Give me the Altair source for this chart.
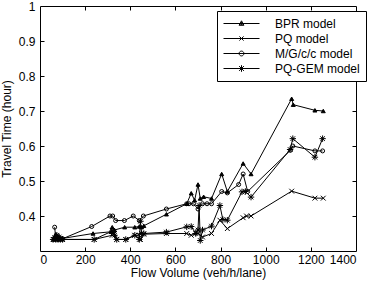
import altair as alt
import pandas as pd

# ---- data ----
series_names = ["BPR model", "PQ model", "M/G/c/c model", "PQ-GEM model"]

bpr_x = [60, 65, 70, 75, 80, 85, 95, 100, 235, 315, 320, 330, 375, 420, 440, 450, 460, 560, 650, 670, 685, 700, 710, 725, 760, 805, 830, 900, 935, 1115, 1122, 1218, 1255]
bpr_y = [0.333, 0.34, 0.348, 0.336, 0.342, 0.335, 0.333, 0.336, 0.35, 0.355, 0.368, 0.36, 0.368, 0.368, 0.37, 0.368, 0.372, 0.405, 0.435, 0.465, 0.445, 0.49, 0.45, 0.455, 0.45, 0.52, 0.47, 0.55, 0.52, 0.735, 0.718, 0.702, 0.70]

pq_x = [60, 70, 75, 80, 90, 100, 240, 320, 330, 340, 380, 420, 440, 445, 460, 560, 650, 670, 700, 720, 760, 797, 830, 900, 915, 935, 1115, 1218, 1255]
pq_y = [0.333, 0.333, 0.338, 0.333, 0.335, 0.333, 0.333, 0.345, 0.35, 0.333, 0.333, 0.345, 0.345, 0.333, 0.348, 0.35, 0.35, 0.345, 0.35, 0.34, 0.35, 0.388, 0.364, 0.395, 0.40, 0.40, 0.471, 0.451, 0.451]

mg_x = [65, 70, 75, 80, 90, 100, 229, 310, 322, 335, 374, 413, 440, 458, 560, 650, 660, 680, 700, 720, 740, 760, 805, 830, 880, 900, 920, 1110, 1120, 1218, 1252]
mg_y = [0.368, 0.335, 0.34, 0.333, 0.335, 0.335, 0.37, 0.40, 0.40, 0.387, 0.387, 0.40, 0.387, 0.40, 0.42, 0.435, 0.435, 0.435, 0.42, 0.435, 0.435, 0.435, 0.47, 0.466, 0.49, 0.52, 0.47, 0.588, 0.60, 0.586, 0.586]

gem_x = [58, 65, 70, 75, 80, 85, 90, 100, 240, 320, 330, 340, 380, 420, 440, 445, 450, 460, 560, 650, 670, 690, 700, 705, 710, 720, 760, 797, 810, 830, 895, 910, 935, 1108, 1120, 1218, 1252]
gem_y = [0.333, 0.338, 0.333, 0.345, 0.333, 0.34, 0.333, 0.333, 0.333, 0.357, 0.345, 0.333, 0.333, 0.345, 0.333, 0.385, 0.35, 0.35, 0.354, 0.369, 0.37, 0.35, 0.36, 0.43, 0.33, 0.36, 0.371, 0.43, 0.39, 0.388, 0.469, 0.47, 0.454, 0.59, 0.621, 0.568, 0.621]

x_ticks = [0, 200, 400, 600, 800, 1000, 1200, 1400]
y_ticks = [0.4, 0.5, 0.6, 0.7, 0.8, 0.9, 1.0]

rows = []
for name, xs_, ys_ in zip(series_names, [bpr_x, pq_x, mg_x, gem_x], [bpr_y, pq_y, mg_y, gem_y]):
    for i, (a, b) in enumerate(zip(xs_, ys_)):
        rows.append({"series": name, "flow": a, "time": b, "idx": i})
df = pd.DataFrame(rows)

W, H = 316, 245
FONT = "Liberation Sans"

xscale = alt.Scale(domain=[0, 1400], nice=False, zero=False)
yscale = alt.Scale(domain=[0.3, 1.0], nice=False, zero=False)

marker_paths = [
    "triangle-up",
    "M-1.2,-1.2L1.2,1.2M-1.2,1.2L1.2,-1.2",
    "circle",
    "M-1.6,0L1.6,0M0,-1.6L0,1.6M-1.15,-1.15L1.15,1.15M-1.15,1.15L1.15,-1.15",
]
marker_fills = ["black", "transparent", "transparent", "transparent"]

# legend symbols: a line segment with the marker in the middle (unit = 6 px)
legend_paths = [
    "M-3,0L3,0M0,-0.45L0.4,0.3L-0.4,0.3ZM0,-0.2L0.15,0.15L-0.15,0.15Z",
    "M-3,0L3,0M-0.35,-0.35L0.35,0.35M-0.35,0.35L0.35,-0.35",
    "M-3,0L3,0M0.4,0A0.4,0.4 0 1,1 -0.4,0A0.4,0.4 0 1,1 0.4,0",
    "M-3,0L3,0M0,-0.55L0,0.55M-0.4,-0.4L0.4,0.4M-0.4,0.4L0.4,-0.4",
]


def tick_axis(orient, offset, values):
    return alt.Axis(orient=orient, offset=offset, values=values, labels=False,
                    domain=False, grid=False, title=None, ticks=True,
                    tickSize=4, tickColor="black", tickWidth=1)


base = alt.Chart(df)

lines = base.mark_line(color="black", strokeWidth=1).encode(
    x=alt.X("flow:Q", scale=xscale, axis=alt.Axis(
        orient="bottom", values=x_ticks, ticks=False, domain=False, grid=False,
        title="Flow Volume (veh/h/lane)", format="d", labelFontSize=12,
        titleFontSize=12, labelFont=FONT, titleFont=FONT, labelPadding=3,
        titlePadding=2, titleFontWeight="normal", labelColor="black",
        titleColor="black")),
    y=alt.Y("time:Q", scale=yscale, axis=alt.Axis(
        orient="left", values=y_ticks, ticks=False, domain=False, grid=False,
        title="Travel Time (hour)", format="~g", labelFontSize=12,
        titleFontSize=12, labelFont=FONT, titleFont=FONT, labelPadding=5,
        titlePadding=5, titleFontWeight="normal", labelColor="black",
        titleColor="black")),
    detail="series:N",
    order="idx:Q",
)

points = base.mark_point(stroke="black", strokeWidth=1, size=16, opacity=1).encode(
    x=alt.X("flow:Q", scale=xscale, axis=tick_axis("top", -H, x_ticks[1:-1])),
    y=alt.Y("time:Q", scale=yscale, axis=tick_axis("right", -W, y_ticks[:-1])),
    shape=alt.Shape("series:N", scale=alt.Scale(domain=series_names, range=marker_paths), legend=None),
    fill=alt.Fill("series:N", scale=alt.Scale(domain=series_names, range=marker_fills), legend=None),
)

leg = alt.Legend(
    title=None, orient="none", legendX=177, legendY=5, fillColor="white",
    strokeColor="black", padding=6, labelFontSize=12, labelFont=FONT,
    labelColor="black", symbolSize=144, symbolStrokeWidth=1,
    symbolStrokeColor="black", symbolFillColor="transparent",
    symbolOpacity=1, symbolOffset=12, rowPadding=2, labelOffset=27,
    cornerRadius=0,
)

legend_layer = base.transform_filter("false").mark_point(
    stroke="black", strokeWidth=1, filled=False, opacity=1
).encode(
    x=alt.X("flow:Q", scale=xscale, axis=tick_axis("bottom", -H, x_ticks[1:-1])),
    y=alt.Y("time:Q", scale=yscale, axis=tick_axis("left", -W, y_ticks[:-1])),
    shape=alt.Shape("series:N", scale=alt.Scale(domain=series_names, range=legend_paths), legend=leg),
)

chart = (
    alt.layer(lines, points, legend_layer)
    .resolve_scale(shape="independent", fill="independent")
    .resolve_axis(x="independent", y="independent")
    .properties(
        width=W, height=H,
        autosize=alt.AutoSizeParams(type="none"),
        padding={"left": 40, "top": 6, "right": 12, "bottom": 32},
        background="white",
    )
    .configure_view(stroke="black", strokeWidth=1)
)

chart.save("out.html", embed_options={"renderer": "svg", "actions": False})
